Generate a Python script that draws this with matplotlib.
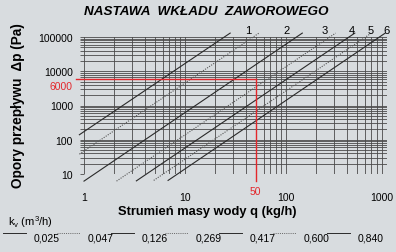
import matplotlib.pyplot as plt
import matplotlib.transforms as mtransforms
from matplotlib.lines import Line2D
from matplotlib.ticker import FixedLocator, NullFormatter

plt.rcParams['font.family'] = ['Liberation Sans', 'DejaVu Sans']

# kv values of the seven characteristic lines (m3/h)
kv = [0.025, 0.047, 0.126, 0.269, 0.417, 0.600, 0.840]
kv_labels = ['0,025', '0,047', '0,126', '0,269', '0,417', '0,600', '0,840']
solid = [True, False, True, False, True, False, True]

# start / end of each line: q (kg/h), dp (Pa)
q_start = [0.9, 0.9, 1.0, 2.1, 3.3, 4.9, 6.8]
dp_start = [140, 38, 6.2, 6.2, 6.3, 6.5, 6.5]
q_end = [28, 54, 145, 310, 480, 700, 960]
dp_end = [1.3e5, 1.3e5, 1.3e5, 1.3e5, 1.3e5, 1.3e5, 1.3e5]

# setting numbers printed above the lines
setting_labels = ['1', '2', '3', '4', '5', '6']
setting_label_q = [42, 102, 242, 449, 695, 983]

# example reading marked in red
ex_q = 50
ex_dp = 6000

bg = '#d8dcdf'
grid_c = '#4a4a4a'
red = '#e3262b'

fig = plt.figure(figsize=(3.96, 2.53), dpi=100, facecolor=bg)
ax = fig.add_axes([84/396, 1-175/253, 303/396, 137/253])
ax.set_facecolor(bg)
ax.set_xscale('log')
ax.set_yscale('log')
ax.set_xlim(1, 1000)
ax.set_ylim(10, 1e5)

for s in ax.spines.values():
    s.set_visible(False)

ax.grid(True, which='both', color=grid_c, lw=0.6)
ax.xaxis.set_major_locator(FixedLocator([1, 10, 100, 1000]))
ax.yaxis.set_major_locator(FixedLocator([10, 100, 1000, 10000, 100000]))
ax.set_xticklabels(['1', '10', '100', '1000'])
ax.set_yticklabels(['10', '100', '1000', '10000', '100000'])
ax.xaxis.set_minor_formatter(NullFormatter())
ax.yaxis.set_minor_formatter(NullFormatter())
ax.tick_params(axis='x', which='both', length=0, pad=13, labelsize=7.5)
ax.tick_params(axis='y', which='both', length=3, width=0.6, color=grid_c,
               pad=5, labelsize=7.5)

# pull the last x label in so it stays inside the picture
last = ax.get_xticklabels()[-1]
last.set_transform(last.get_transform() +
                   mtransforms.ScaledTranslation(-5/100, 0, fig.dpi_scale_trans))

for i in range(len(kv)):
    ls = '-' if solid[i] else (0, (1, 1.2))
    c = '#2a2a2a' if solid[i] else '#555555'
    ax.plot([q_start[i], q_end[i]], [dp_start[i], dp_end[i]], color=c,
            lw=0.8, ls=ls, clip_on=False, zorder=3)

for lab, q in zip(setting_labels, setting_label_q):
    ax.text(q, 1.6e5, lab, ha='center', va='center', fontsize=8, clip_on=False)

# red example reading
ax.plot([0.83, ex_q], [ex_dp, ex_dp], color=red, lw=1.0,
        clip_on=False, zorder=6)
ax.plot([ex_q, ex_q], [ex_dp, 6.2], color=red, lw=1.0,
        clip_on=False, zorder=6)
ax.annotate(str(ex_dp), xy=(0, ex_dp), xycoords=('axes fraction', 'data'),
            xytext=(-8, -5), textcoords='offset points', ha='right',
            va='center', color=red, fontsize=7.5)
ax.annotate(str(ex_q), xy=(ex_q, 0), xycoords=('data', 'axes fraction'),
            xytext=(0, -12), textcoords='offset points', ha='center',
            va='center', color=red, fontsize=7.5)

fig.text(206/396, 1-12/253, 'NASTAWA  WKŁADU  ZAWOROWEGO', ha='center',
         va='center', fontsize=9.7, fontweight='bold', style='italic')
fig.text(18/396, 1-106/253, 'Opory przepływu  Δp (Pa)', rotation=90,
         ha='center', va='center', fontsize=9.8, fontweight='bold')
fig.text(207/396, 1-212/253, 'Strumień masy wody q (kg/h)', ha='center',
         va='center', fontsize=9.3, fontweight='bold')

# kv legend row
fig.text(8/396, 1-222/253, 'k$_\\mathregular{v}$ (m$^\\mathregular{3}$/h)',
         ha='left', va='center', fontsize=8)
for i, lab in enumerate(kv_labels):
    cx = 47 + 54*i
    fig.text(cx/396, 1-239/253, lab, ha='center', va='center', fontsize=7.5)
    ls = '-' if solid[i] else (0, (1, 1.2))
    c = '#2a2a2a' if solid[i] else '#666666'
    fig.add_artist(Line2D([(cx-44)/396, (cx-21)/396], [1-234/253, 1-234/253],
                          color=c, lw=0.7, ls=ls))

fig.savefig('out.png', dpi=100, facecolor=bg)
